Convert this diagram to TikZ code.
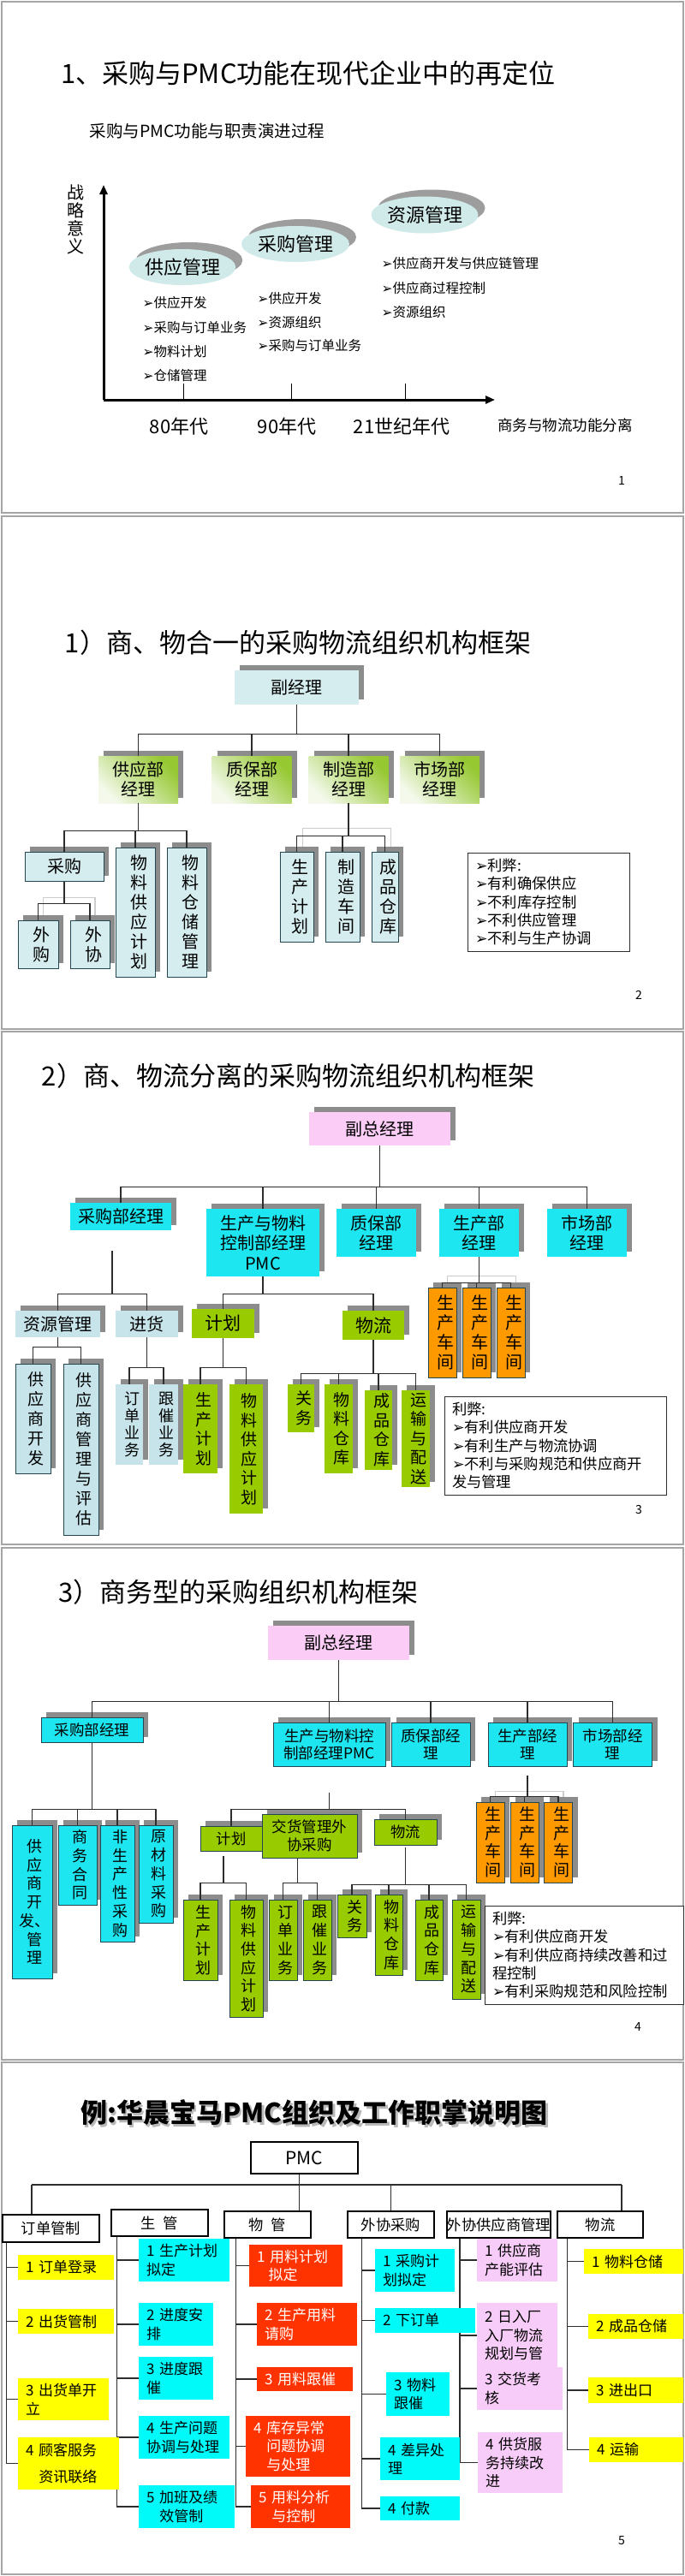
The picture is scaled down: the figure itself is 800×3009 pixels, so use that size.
\documentclass[tikz,border=0pt]{standalone}
\usepackage{fontspec}
\setmainfont{Noto Sans CJK SC}
\newfontfamily\bulletfont{DejaVu Sans}
\usetikzlibrary{arrows.meta,shapes.geometric,shadows,backgrounds}
\XeTeXlinebreaklocale "zh"
\XeTeXlinebreakskip=0pt plus 1pt
\definecolor{lineblk}{RGB}{45,45,45}
\definecolor{framegray}{RGB}{165,165,165}
\definecolor{shadowgray}{RGB}{140,140,140}
\definecolor{ovalteal}{RGB}{208,234,234}
\definecolor{paleblue}{RGB}{214,237,240}
\definecolor{leafgreen}{RGB}{150,200,50}
\definecolor{palegreen}{RGB}{244,249,236}
\definecolor{aquabox}{RGB}{30,230,240}
\definecolor{pinkbox}{RGB}{250,204,246}
\definecolor{limebox}{RGB}{153,204,0}
\definecolor{orangebox}{RGB}{255,153,0}
\definecolor{greyblue}{RGB}{198,228,234}
\definecolor{boxedge}{RGB}{35,70,80}
\definecolor{yellowbox}{RGB}{255,255,0}
\definecolor{cyanbox}{RGB}{0,250,250}
\definecolor{redbox}{RGB}{255,51,0}
\definecolor{pinkitem}{RGB}{248,204,248}
\newcommand{\arr}{{\bulletfont\char"27A2}}

\begin{document}
\begin{tikzpicture}[x=1pt, y=-1pt,
  f14/.style={font=\fontsize{14}{16}\selectfont},
  f15/.style={font=\fontsize{15.5}{18}\selectfont},
  f17/.style={font=\fontsize{17.3}{21.3}\selectfont},
  f18/.style={font=\fontsize{18}{20}\selectfont},
  v18/.style={font=\fontsize{18}{21.7}\selectfont},
  v19/.style={font=\fontsize{19}{22.5}\selectfont},
  f20/.style={font=\fontsize{20}{23}\selectfont},
  f22/.style={font=\fontsize{22}{26}\selectfont},
  slidetitle/.style={font=\fontsize{31}{36}\selectfont},
  slideframe/.style={draw=framegray, line width=2.5pt},
  conn/.style={draw=lineblk, line width=1.2pt},
  shline/.style={draw=gray!40, line width=1.2pt},
  axisline/.style={line width=3pt, -{Triangle[length=11pt,width=9pt]}},
  shad/.style={drop shadow={shadow xshift=6pt, shadow yshift=6pt, fill=shadowgray, opacity=1}},
  orgbox/.style={shad, inner sep=0pt, align=center},
  edged/.style={draw=boxedge, line width=1pt},
  vt/.style={text width=1.15em},
  oval/.style={ellipse, fill=ovalteal, inner sep=0pt, f22,
    drop shadow={shadow xshift=8pt, shadow yshift=8pt, fill=shadowgray!85, opacity=1}},
  greengrad/.style={top color=leafgreen, bottom color=palegreen, shading angle=-45},
  note/.style={draw=lineblk, line width=1pt, fill=white, inner xsep=9pt, inner ysep=0pt, align=left, f17},
  hdr/.style={draw=black, line width=1.8pt, fill=white, inner sep=0pt, f17},
  item/.style 2 args={text width=#1pt, minimum height=#2, inner xsep=9pt, inner ysep=0pt,
    align=left, font=\fontsize{17}{21.5}\selectfont},
  pnum/.style={f14}
]
\begin{scope}[on background layer]
  \path[fill=white] (0,0) rectangle (800,3009);
\end{scope}

% ---------- slide 1: evolution of purchasing and PMC ----------
\draw[slideframe] (2,2) rectangle (798,599);
\node[slidetitle] (t1) at (360,86) {1、采购与PMC功能在现代企业中的再定位};
\node[font=\fontsize{19.5}{22}\selectfont] (sub1) at (242,153) {采购与PMC功能与职责演进过程};
\node[font=\fontsize{20}{21}\selectfont, vt, align=center] (zlyy) at (84,256) {战略意义};
\coordinate (orig) at (121,467);
\draw[axisline] (orig) -- (121,216);
\draw[axisline] (orig) -- (578,467);
\foreach \x in {214,340,473} \draw[line width=1pt] (\x,448) -- (\x,467);
\node[f22] (d80) at (209,498) {80年代};
\node[f22] (d90) at (335,498) {90年代};
\node[f22] (d21) at (469,498) {21世纪年代};
\node[font=\fontsize{17.5}{20}\selectfont] (flfl) at (660,497) {商务与物流功能分离};
% ovals
\node[oval, minimum width=114, minimum height=42] (gygl) at (213,312) {供应管理};
\node[oval, minimum width=126, minimum height=42] (cggl) at (345,285) {采购管理};
\node[oval, minimum width=125, minimum height=43] (zygl) at (496,251) {资源管理};
% bullet lists
\foreach \t [count=\i] in {供应开发,采购与订单业务,物料计划,仓储管理}
  \node[f15, anchor=west] (ba\i) at (163,{354+28.3*(\i-1)}) {\arr{}\t};
\foreach \t [count=\i] in {供应开发,资源组织,采购与订单业务}
  \node[f15, anchor=west] (bb\i) at (297,{349+27.5*(\i-1)}) {\arr{}\t};
\foreach \t [count=\i] in {供应商开发与供应链管理,供应商过程控制,资源组织}
  \node[f15, anchor=west] (bc\i) at (442,{308+28.5*(\i-1)}) {\arr{}\t};
\node[pnum] (pn1) at (726,561) {1};

% ---------- slide 2: combined structure ----------
\draw[slideframe] (2,603) rectangle (798,1202);
\node[slidetitle] (t2) at (348,751) {1）商、物合一的采购物流组织机构框架};
\node[orgbox, f20, fill=paleblue, minimum width=145, minimum height=40] (fjl) at (346.5,803) {副经理};
\foreach \n/\x/\t in {gyb/161.5/供应部, zbb/294/质保部, zzb/407/制造部, scb/513.5/市场部}
  \node[orgbox, f20, greengrad, minimum width=93, minimum height=55] (\n) at (\x,910.5) {\t\\经理};
\foreach \n in {gyb,zbb,zzb,scb} \draw[conn] (fjl.south) -- ++(0,34) -| (\n.north);
% supply branch
\node[orgbox, f20, edged, fill=paleblue, minimum width=92, minimum height=34] (cg2) at (75,1012) {采购};
\node[orgbox, f20, edged, vt, fill=paleblue, minimum width=46, minimum height=151] (wlgy2) at (158,1065.5) {物料供应计划};
\node[orgbox, f20, edged, vt, fill=paleblue, minimum width=46, minimum height=151] (wlcc2) at (218,1065.5) {物料仓储管理};
\foreach \n in {cg2,wlgy2,wlcc2} \draw[conn] (gyb.south) -- ++(0,32) -| (\n.north);
\node[orgbox, f20, edged, vt, fill=paleblue, minimum width=47, minimum height=56] (wg2) at (44.5,1103) {外购};
\node[orgbox, f20, edged, vt, fill=paleblue, minimum width=46, minimum height=56] (wx2) at (105,1103) {外协};
\draw[shline] ([shift={(6pt,6pt)}]wg2.north) -- ++(0,-20) -| ([shift={(6pt,6pt)}]wx2.north);
\foreach \n in {wg2,wx2} \draw[conn] (cg2.south) -- ++(0,26) -| (\n.north);
% manufacturing branch
\node[orgbox, f20, edged, vt, fill=paleblue, minimum width=39, minimum height=105] (scjh2) at (346.5,1047.5) {生产计划};
\node[orgbox, f20, edged, vt, fill=paleblue, minimum width=40, minimum height=105] (zzcj2) at (400,1047.5) {制造车间};
\node[orgbox, f20, edged, vt, fill=paleblue, minimum width=31, minimum height=105] (cpck2) at (449.5,1047.5) {成品仓库};
\draw[shline] ([shift={(7pt,6pt)}]scjh2.north) -- ++(0,-21) -| ([shift={(7pt,6pt)}]cpck2.north);
\foreach \n in {scjh2,zzcj2,cpck2} \draw[conn] (zzb.south) -- ++(0,38) -| (\n.north);
\node[note, text width=171pt, minimum height=115] (lb2) at (640.5,1053.5)
  {\arr{}利弊:\\\arr{}有利确保供应\\\arr{}不利库存控制\\\arr{}不利供应管理\\\arr{}不利与生产协调};
\node[pnum] (pn2) at (746,1162) {2};

% ---------- slide 3: separated structure ----------
\draw[slideframe] (2,1205) rectangle (798,1804);
\node[slidetitle] (t3) at (336.5,1257) {2）商、物流分离的采购物流组织机构框架};
\node[orgbox, f20, fill=pinkbox, minimum width=165, minimum height=39] (fzjl3) at (443.5,1318.5) {副总经理};
\node[orgbox, f20, fill=aquabox, minimum width=118, minimum height=32] (cgb3) at (141,1421) {采购部经理};
\node[orgbox, fill=aquabox, minimum width=132, minimum height=79, font=\fontsize{20}{23.5}\selectfont] (pmc3) at (307,1451.5) {生产与物料\\控制部经理\\PMC};
\foreach \n/\x/\t in {zbb3/439.5/质保部, scb3/559.5/生产部, shb3/685.5/市场部}
  \node[orgbox, f20, fill=aquabox, minimum width=93, minimum height=56] (\n) at (\x,1440) {\t\\经理};
\foreach \n in {cgb3,pmc3,zbb3,scb3,shb3} \draw[conn] (fzjl3.south) -- ++(0,48) -| (\n.north);
% purchasing branch
\node[orgbox, f20, fill=greyblue, minimum width=99, minimum height=31] (zygl3) at (67.5,1546.5) {资源管理};
\node[orgbox, f20, fill=greyblue, minimum width=73, minimum height=31] (jh3) at (171.5,1546.5) {进货};
\foreach \n in {zygl3,jh3} \draw[conn] ([shift={(-10pt,-24pt)}]cgb3.south) -- ++(0,50) -| (\n.north);
\node[orgbox, font=\fontsize{19}{23}\selectfont, edged, vt, fill=greyblue, minimum width=41, minimum height=128] (gyskf3) at (38.5,1657) {供应商开发};
\node[orgbox, font=\fontsize{19}{23}\selectfont, edged, vt, fill=greyblue, minimum width=41, minimum height=200] (gysgl3) at (94.5,1693) {供应商管理与评估};
\foreach \n in {gyskf3,gysgl3} \draw[conn] (zygl3.south) -- ++(0,11) -| (\n.north);
\node[orgbox, f18, vt, fill=greyblue, minimum width=32, minimum height=94] (ddyw3) at (151,1664) {订单业务};
\node[orgbox, f18, vt, fill=greyblue, minimum width=34, minimum height=94] (gcyw3) at (191,1664) {跟催业务};
\foreach \n in {ddyw3,gcyw3} \draw[conn] (jh3.south) -- ++(0,35) -| (\n.north);
% PMC branch
\node[orgbox, font=\fontsize{21}{24}\selectfont, fill=limebox, minimum width=73, minimum height=34] (jhb3) at (260.5,1546) {计划};
\node[orgbox, font=\fontsize{21}{24}\selectfont, fill=limebox, minimum width=72, minimum height=34] (wlb3) at (436,1548) {物流};
\foreach \n in {jhb3,wlb3} \draw[conn] (pmc3.south) -- ++(0,20) -| (\n.north);
\node[orgbox, v19, vt, fill=limebox, minimum width=40, minimum height=104] (scjh3) at (234,1669) {生产计划};
\node[orgbox, v19, vt, fill=limebox, minimum width=39, minimum height=151] (wlgy3) at (287.5,1692.5) {物料供应计划};
\foreach \n in {scjh3,wlgy3} \draw[conn] (jhb3.south) -- ++(0,34) -| (\n.north);
\node[orgbox, v19, vt, fill=limebox, minimum width=31, minimum height=56] (gw3) at (351.5,1645) {关务};
\node[orgbox, v19, vt, fill=limebox, minimum width=33, minimum height=104] (wlck3) at (395.5,1669) {物料仓库};
\node[orgbox, v19, vt, fill=limebox, minimum width=32, minimum height=93] (cpck3) at (442,1670.5) {成品仓库};
\node[orgbox, v19, vt, fill=limebox, minimum width=33, minimum height=113] (ysps3) at (485.5,1680.5) {运输与配送};
\foreach \n in {gw3,wlck3,cpck3,ysps3} \draw[conn] (wlb3.south) -- ++(0,39) -| (\n.north);
% workshops
\foreach \n/\x in {cja3/516.5, cjb3/556.5, cjc3/596.5}
  \node[orgbox, f20, edged, vt, fill=orangebox, minimum width=33, minimum height=105] (\n) at (\x,1556.5) {生产车间};
\draw[shline] ([shift={(6pt,6pt)}]cja3.north) -- ++(0,-7) -| ([shift={(6pt,6pt)}]cjc3.north);
\foreach \n in {cja3,cjb3,cjc3} \draw[conn] (scb3.south) -- ++(0,30) -| (\n.north);
\node[note, text width=241pt, minimum height=115] (lb3) at (648.5,1688.5)
  {利弊:\\\arr{}有利供应商开发\\\arr{}有利生产与物流协调\\\arr{}不利与采购规范和供应商开\\发与管理};
\node[pnum] (pn3) at (746,1763) {3};

% ---------- slide 4: commercial structure ----------
\draw[slideframe] (2,1808) rectangle (798,2406);
\node[slidetitle] (t4) at (278.5,1860) {3）商务型的采购组织机构框架};
\node[orgbox, f20, fill=pinkbox, minimum width=165, minimum height=40] (fzjl4) at (395.5,1919) {副总经理};
\node[orgbox, font=\fontsize{17.5}{20}\selectfont, edged, fill=aquabox, minimum width=119, minimum height=29] (cgb4) at (107.5,2020.5) {采购部经理};
\node[orgbox, font=\fontsize{17.5}{20}\selectfont, edged, fill=aquabox, minimum width=131, minimum height=51] (pmc4) at (384.5,2037.5) {生产与物料控\\制部经理PMC};
\foreach \n/\x/\t in {zbb4/503/质保部经, scb4/616/生产部经, shb4/715.5/市场部经}
  \node[orgbox, font=\fontsize{17.5}{20}\selectfont, edged, fill=aquabox, minimum width=92, minimum height=51] (\n) at (\x,2037.5) {\t\\理};
\foreach \n in {cgb4,pmc4,zbb4,scb4,shb4} \draw[conn] (fzjl4.south) -- ++(0,48) -| (\n.north);
% purchasing branch
\node[orgbox, v18, edged, vt, fill=aquabox, minimum width=47, minimum height=179] (gys4) at (37.5,2221.5) {供\\应\\商\\开\\\makebox[1em]{发、}\\管\\理};
\node[orgbox, v18, edged, vt, fill=aquabox, minimum width=45, minimum height=93] (swht4) at (90.5,2178.5) {商务合同};
\node[orgbox, v18, edged, vt, fill=aquabox, minimum width=40, minimum height=136] (fsc4) at (137,2200) {非生产性采购};
\node[orgbox, v18, edged, vt, fill=aquabox, minimum width=40, minimum height=114] (ycl4) at (182,2189) {原材料采购};
\foreach \n in {gys4,swht4,fsc4,ycl4} \draw[conn] (cgb4.south) -- ++(0,78) -| (\n.north);
% PMC branch
\node[orgbox, f17, edged, fill=limebox, minimum width=72, minimum height=29] (jhb4) at (270,2147.5) {计划};
\node[orgbox, font=\fontsize{17.5}{21}\selectfont, edged, fill=limebox, minimum width=111, minimum height=51] (jhwx4) at (361.5,2144.5) {交货管理外\\协采购};
\node[orgbox, f17, edged, fill=limebox, minimum width=73, minimum height=30] (wlb4) at (473.5,2140) {物流};
\foreach \n in {jhb4,wlb4} \draw[conn] ([yshift=-30pt]pmc4.south) -- ++(0,20) -| (\n.north);
\node[orgbox, v18, edged, vt, fill=limebox, minimum width=40, minimum height=94] (scjh4) at (234,2266) {生产计划};
\node[orgbox, v18, edged, vt, fill=limebox, minimum width=39, minimum height=137] (wlgy4) at (287.5,2287.5) {物料供应计划};
\foreach \n in {scjh4,wlgy4} \draw[conn] ([xshift=-9pt,yshift=-5pt]jhb4.south) -- ++(0,32) -| (\n.north);
\node[orgbox, v18, edged, vt, fill=limebox, minimum width=33, minimum height=94] (ddyw4) at (330.5,2266) {订单业务};
\node[orgbox, v18, edged, vt, fill=limebox, minimum width=33, minimum height=94] (gcyw4) at (370.5,2266) {跟催业务};
\foreach \n in {ddyw4,gcyw4} \draw[conn] ([xshift=-14pt]jhwx4.south) -- ++(0,29) -| (\n.north);
\node[orgbox, v18, edged, vt, fill=limebox, minimum width=34, minimum height=50] (gw4) at (411,2238) {关务};
\node[orgbox, v18, edged, vt, fill=limebox, minimum width=32, minimum height=94] (wlck4) at (454,2260) {物料仓库};
\node[orgbox, v18, edged, vt, fill=limebox, minimum width=32, minimum height=94] (cpck4) at (501,2266) {成品仓库};
\node[orgbox, v18, edged, vt, fill=limebox, minimum width=33, minimum height=116] (ysps4) at (544.5,2277) {运输与配送};
\foreach \n in {gw4,wlck4,cpck4,ysps4} \draw[conn] ([yshift=-2pt]wlb4.south) -- ++(0,44) -| (\n.north);
% workshops
\foreach \n/\x in {cja4/572.5, cjb4/612.5, cjc4/652}
  \node[orgbox, font=\fontsize{19}{21.5}\selectfont, edged, vt, fill=orangebox, minimum width=33, minimum height=94] (\n) at (\x,2152) {生产车间};
\draw[shline] ([shift={(6pt,6pt)}]cja4.north) -- ++(0,-6) -| ([shift={(6pt,6pt)}]cjc4.north);
\foreach \n in {cja4,cjb4,cjc4} \draw[conn] ([yshift=-10pt]scb4.south) -- ++(0,25) -| (\n.north);
\node[note, text width=214pt, minimum height=115] (lb4) at (682,2283.5)
  {利弊:\\\arr{}有利供应商开发\\\arr{}有利供应商持续改善和过\\程控制\\\arr{}有利采购规范和风险控制};
\node[pnum] (pn4) at (745,2367) {4};

% ---------- slide 5: PMC duties ----------
\draw[slideframe] (2,2409) rectangle (798,3007);
\node[font=\fontsize{31}{36}\selectfont\bfseries, text=gray!55] (t5shadow) at (369.5,2470.5) {例:华晨宝马PMC组织及工作职掌说明图};
\node[font=\fontsize{31}{36}\selectfont\bfseries] (t5) at (367,2468) {例:华晨宝马PMC组织及工作职掌说明图};
\node[hdr, font=\fontsize{21}{24}\selectfont, minimum width=125, minimum height=37] (pmc5) at (355.5,2520.5) {PMC};
\node[hdr, minimum width=113, minimum height=32] (ddgz) at (59.5,2603) {订单管制};
\node[hdr, minimum width=113, minimum height=31] (sg) at (186.5,2596.5) {生\hspace{0.5em}管};
\node[hdr, minimum width=101, minimum height=31] (wg5) at (312.5,2598.5) {物\hspace{0.5em}管};
\node[hdr, minimum width=101, minimum height=31] (wxcg) at (456.5,2598.5) {外协采购};
\node[hdr, minimum width=113, minimum height=31] (wxgys) at (582.5,2598.5) {外协供应商管理};
\node[hdr, minimum width=100, minimum height=31] (wl5) at (701,2598.5) {物流};
% order control
\node[item={94}{29}, fill=yellowbox] (o1) at (77,2648.5) {1 订单登录};
\node[item={94}{29}, fill=yellowbox] (o2) at (77,2711.5) {2 出货管制};
\node[item={88}{49}, fill=yellowbox] (o3) at (74,2802.5) {3 出货单开\\立};
\node[item={100}{61}, fill=yellowbox] (o4) at (80,2877.5) {4 顾客服务\\[9pt]\hspace*{0.9em}资讯联络};
% production control
\node[item={88}{50}, fill=cyanbox] (p1) at (215,2640) {1 生产计划\\拟定};
\node[item={69}{50}, fill=cyanbox] (p2) at (205.5,2715) {2 进度安\\排};
\node[item={69}{50}, fill=cyanbox] (p3) at (205.5,2778) {3 进度跟\\催};
\node[item={88}{50}, fill=cyanbox] (p4) at (215,2847) {4 生产问题\\协调与处理};
\node[item={94}{50}, fill=cyanbox] (p5) at (218,2928) {5 加班及绩\\\hspace*{0.9em}效管制};
% material control
\node[item={91}{49}, fill=redbox, text=white] (m1) at (345.5,2646.5) {1 用料计划\\\hspace*{0.8em}拟定};
\node[item={99}{50}, fill=redbox, text=white] (m2) at (358.5,2715) {2 生产用料\\请购};
\node[item={94}{28}, fill=redbox, text=white] (m3) at (356,2779) {3 用料跟催};
\node[item={104}{71}, fill=redbox, text=white] (m4) at (348,2857.5) {4 库存异常\\\hspace*{0.9em}问题协调\\\hspace*{0.9em}与处理};
\node[item={98}{50}, fill=redbox, text=white] (m5) at (351,2928) {5 用料分析\\\hspace*{0.9em}与控制};
% outsourced purchasing
\node[item={75}{50}, fill=cyanbox] (x1) at (484.5,2652) {1 采购计\\划拟定};
\node[item={99}{29}, fill=cyanbox] (x2) at (496.5,2710.5) {2 下订单};
\node[item={56}{51}, fill=cyanbox] (x3) at (488,2796.5) {3 物料\\跟催};
\node[item={75}{50}, fill=cyanbox] (x4) at (490.5,2872) {4 差异处\\理};
\node[item={75}{28}, fill=cyanbox] (x5) at (490.5,2930) {4 付款};
% supplier management
\node[item={76}{50}, fill=pinkitem] (g1) at (604,2640) {1 供应商\\产能评估};
\node[item={76}{76}, fill=pinkitem] (g2) at (604,2728) {2 日入厂\\入厂物流\\规划与管};
\node[item={82}{50}, fill=pinkitem] (g3) at (607,2790) {3 交货考\\核};
\node[item={81}{71}, fill=pinkitem] (g4) at (607.5,2876.5) {4 供货服\\务持续改\\进};
% logistics
\node[item={98}{29}, fill=yellowbox] (l1) at (740,2641.5) {1 物料仓储};
\node[item={93}{29}, fill=yellowbox] (l2) at (742.5,2717.5) {2 成品仓储};
\node[item={93}{30}, fill=yellowbox] (l3) at (742.5,2792) {3 进出口};
\node[item={92}{29}, fill=yellowbox] (l4) at (743,2861.5) {4 运输};
\begin{scope}[on background layer]
  \coordinate (barl) at (37,2552);
  \coordinate (barr) at (726,2552);
  \draw[conn] (barl) -- (barr);
  \draw[conn] ([xshift=-6pt,yshift=-3pt]pmc5.center) -- ([xshift=-6pt]pmc5.center |- wg5.north);
  \draw[conn] (barl) -- (barl |- ddgz.north);
  \draw[conn] (wxcg.north |- barl) -- (wxcg.north);
  \draw[conn] (barr) -- (barr |- wl5.north);
  \foreach \n in {o1,o2,o3,o4} \draw[conn] ([xshift=5pt]ddgz.south west) |- (\n.west);
  \foreach \n in {p1,p2,p3,p4,p5} \draw[conn] ([xshift=7pt]sg.south west) |- (\n.west);
  \foreach \n in {m1,m2,m3,m4,m5} \draw[conn] ([xshift=14pt]wg5.south west) |- (\n.west);
  \foreach \n in {x1,x2,x3,x4,x5} \draw[conn] ([xshift=17pt]wxcg.south west) |- (\n.west);
  \foreach \n in {g1,g2,g3,g4} \draw[conn] ([xshift=16pt]wxgys.south west) |- (\n.west);
  \foreach \n in {l1,l2,l3,l4} \draw[conn] ([xshift=12pt]wl5.south west) |- (\n.west);
\end{scope}
\node[pnum] (pn5) at (726,2968) {5};
\end{tikzpicture}
\end{document}
